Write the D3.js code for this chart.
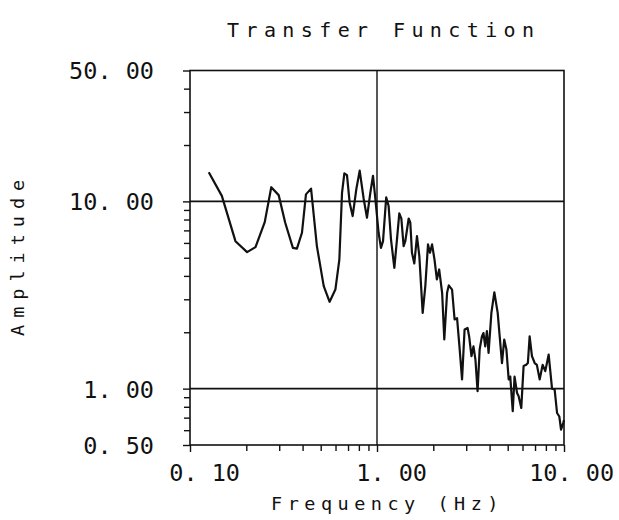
<!DOCTYPE html>
<html>
<head>
<meta charset="utf-8">
<script src="https://cdn.jsdelivr.net/npm/d3@7/dist/d3.min.js"></script>
<style>
  html, body { margin: 0; padding: 0; background: #fff; }
  svg { display: block; }
</style>
</head>
<body>
<svg id="chart" width="619" height="520"></svg>
<script>
// ---- data ----
const freq = [0.126,0.148,0.175,0.202,0.224,0.251,0.272,0.298,0.323,0.355,0.373,0.397,0.417,0.444,0.477,0.519,0.558,0.599,0.629,0.650,0.669,0.691,0.714,0.741,0.775,0.808,0.849,0.884,0.921,0.952,0.98,1.02,1.05,1.077,1.12,1.154,1.188,1.238,1.279,1.316,1.35,1.388,1.417,1.477,1.507,1.538,1.583,1.636,1.684,1.755,1.813,1.874,1.92,1.97,2.03,2.09,2.15,2.23,2.29,2.37,2.42,2.52,2.60,2.68,2.76,2.85,2.94,3.05,3.11,3.20,3.28,3.36,3.45,3.54,3.64,3.71,3.79,3.87,3.95,4.09,4.24,4.42,4.53,4.66,4.79,4.92,5.06,5.16,5.32,5.44,5.61,5.72,5.91,6.08,6.28,6.41,6.55,6.74,6.97,7.16,7.41,7.69,7.94,8.28,8.63,8.91,9.18,9.44,9.64,9.9,10.0];
const amplitude = [14.3,10.7,6.13,5.36,5.70,7.75,11.9,10.8,7.69,5.65,5.59,6.80,10.9,11.7,5.77,3.53,2.91,3.38,4.89,11.1,14.1,13.8,9.84,8.35,11.6,14.6,10.3,8.18,11.1,13.7,10.3,6.80,5.65,6.13,10.5,9.44,6.26,4.42,6.26,8.63,8.08,5.77,6.13,8.1,7.7,5.32,4.66,6.53,5.1,2.54,3.53,5.89,5.32,5.89,4.89,3.83,4.33,3.25,1.83,3.25,3.56,3.38,2.34,2.38,1.68,1.12,2.07,2.11,1.90,1.49,1.68,1.43,0.97,1.62,1.90,1.98,1.68,2.03,1.55,2.54,3.27,2.54,1.90,1.37,1.83,1.62,1.12,1.16,0.757,1.16,0.948,0.91,0.789,1.32,1.34,1.37,1.90,1.49,1.37,1.34,1.12,1.34,1.24,1.52,1.0,0.99,0.741,0.71,0.604,0.655,0.68];

const xDomain = [0.1, 10];
const yDomain = [0.5, 50];
const xMajorTicks = [0.1, 1, 10];
const xMajorLabels = ["0. 10", "1. 00", "10. 00"];
const xMinorTicks = [0.2,0.3,0.4,0.5,0.6,0.7,0.8,0.9,2,3,4,5,6,7,8,9];
const yMajorTicks = [0.5, 1, 10, 50];
const yMajorLabels = ["0. 50", "1. 00", "10. 00", "50. 00"];
const yMinorTicks = [0.6,0.7,0.8,0.9,2,3,4,5,6,7,8,9,20,30,40];
const gridX = [1];
const gridY = [1, 10];
const titleText = "Transfer Function";
const xTitle = "Frequency (Hz)";
const yTitle = "Amplitude";

// ---- layout ----
const L = 190, R = 564, T = 70.5, B = 445;
const ink = "#111";
const svg = d3.select("#chart");

const x = d3.scaleLog().domain(xDomain).range([L, R]);
const y = d3.scaleLog().domain(yDomain).range([B, T]);

const numFont = "DejaVu Sans Mono";
const numSize = 23.5;
const charW = 0.602 * numSize;

// grid lines
svg.append("g").selectAll("line").data(gridY).join("line")
  .attr("x1", L).attr("x2", R)
  .attr("y1", d => y(d)).attr("y2", d => y(d))
  .attr("stroke", ink).attr("stroke-width", 1.6);
svg.append("g").selectAll("line").data(gridX).join("line")
  .attr("x1", d => x(d)).attr("x2", d => x(d))
  .attr("y1", T).attr("y2", B)
  .attr("stroke", ink).attr("stroke-width", 1.4);

// frame
svg.append("rect").attr("x", L).attr("y", T).attr("width", R - L).attr("height", B - T)
  .attr("fill", "none").attr("stroke", ink).attr("stroke-width", 1.6);

// x axis ticks via d3 axis
const xAxisMinor = d3.axisBottom(x).tickValues(xMinorTicks).tickSize(6).tickFormat("");
const xAxisMajor = d3.axisBottom(x).tickValues(xMajorTicks).tickSize(7)
  .tickFormat((d, i) => xMajorLabels[i]);
[xAxisMinor, xAxisMajor].forEach(ax => {
  const g = svg.append("g").attr("class", "xaxis").attr("transform", `translate(0,${B})`).call(ax);
  g.select(".domain").remove();
  g.selectAll(".tick line").attr("stroke", ink).attr("stroke-width", 1.4);
});
svg.selectAll("g.xaxis").selectAll(".tick text")
  .attr("font-family", numFont).attr("font-size", numSize).attr("fill", ink)
  .attr("text-anchor", "start")
  .attr("y", 36).attr("dy", 0)
  .attr("x", function() {
    const s = d3.select(this).text();
    const intDigits = s.indexOf(".");
    return -(intDigits + 0.5) * charW;
  });

// y axis ticks
const yAxisMinor = d3.axisLeft(y).tickValues(yMinorTicks).tickSize(6).tickFormat("");
const yAxisMajor = d3.axisLeft(y).tickValues(yMajorTicks).tickSize(7)
  .tickFormat((d, i) => yMajorLabels[i]);
[yAxisMinor, yAxisMajor].forEach(ax => {
  const g = svg.append("g").attr("transform", `translate(${L},0)`).call(ax);
  g.select(".domain").remove();
  g.selectAll(".tick line").attr("stroke", ink).attr("stroke-width", 1.4);
  g.selectAll(".tick text")
    .attr("font-family", numFont).attr("font-size", numSize).attr("fill", ink)
    .attr("x", -36).attr("dy", "0.36em");
});

// curve
const pts = freq.map((f, i) => [f, amplitude[i]]);
const line = d3.line().x(d => x(d[0])).y(d => y(d[1])).curve(d3.curveLinear);
svg.append("path").datum(pts)
  .attr("d", line).attr("fill", "none").attr("stroke", ink)
  .attr("stroke-width", 2.2).attr("stroke-linejoin", "round");

// titles
const titleFont = "DejaVu Sans Mono";
svg.append("text").attr("x", 227).attr("y", 37)
  .attr("font-family", titleFont).attr("font-size", 20).attr("letter-spacing", 6.4)
  .attr("fill", ink).text(titleText);
svg.append("text").attr("x", 271).attr("y", 510)
  .attr("font-family", titleFont).attr("font-size", 18.5).attr("letter-spacing", 5.5)
  .attr("fill", ink).text(xTitle);
svg.append("text")
  .attr("transform", "translate(24,336) rotate(-90)")
  .attr("font-family", titleFont).attr("font-size", 18.5).attr("letter-spacing", 7)
  .attr("fill", ink).text(yTitle);
</script>
</body>
</html>
